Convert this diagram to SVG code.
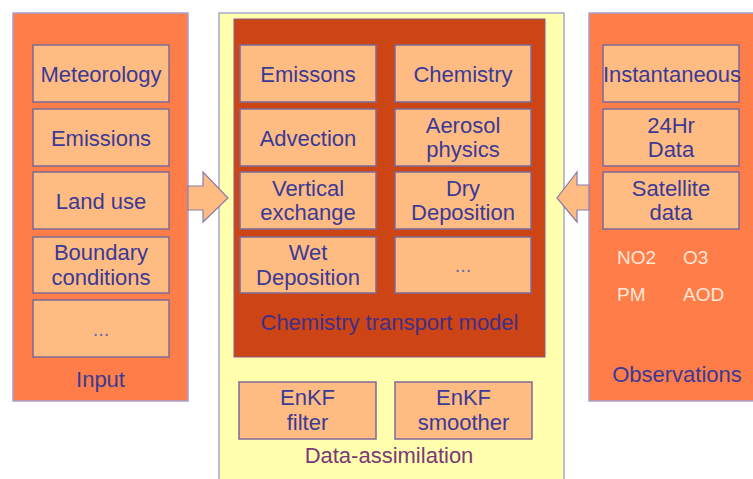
<svg xmlns="http://www.w3.org/2000/svg" width="753" height="479" viewBox="0 0 753 479">
<style>
.panel{fill:#FF7D48;stroke:#A8A0D0;stroke-width:1.5}
.box{fill:#FFBC82;stroke:#7C6A98;stroke-width:1.5}
.t{font-family:"Liberation Sans",Arial,sans-serif;font-size:22px;fill:#3A3A96;text-anchor:middle}
.w{font-family:"Liberation Sans",Arial,sans-serif;font-size:19px;fill:#FFE6D6}
.dots{font-family:"Liberation Sans",Arial,sans-serif;font-size:20px;fill:#6A6AA8;text-anchor:middle}
</style>
<rect width="753" height="479" fill="#FFFFFF"/>
<g id="input">
<rect class="panel" x="13" y="13" width="175" height="388"/>
<text class="t" x="100.5" y="387">Input</text>
</g>
<g id="meteorology"><rect class="box" x="33" y="45" width="136" height="57"/><text class="t" x="101" y="81.5">Meteorology</text></g>
<g id="emissions"><rect class="box" x="33" y="109" width="136" height="57"/><text class="t" x="101" y="145.5">Emissions</text></g>
<g id="landuse"><rect class="box" x="33" y="172" width="136" height="57"/><text class="t" x="101" y="208.5">Land use</text></g>
<g id="boundary"><rect class="box" x="33" y="237" width="136" height="56"/><text class="t" x="101" y="260">Boundary</text><text class="t" x="101" y="285">conditions</text></g>
<g id="input-more"><rect class="box" x="33" y="300" width="136" height="57"/><text class="dots" x="101" y="336">...</text></g>

<g id="data-assimilation">
<rect x="219" y="13" width="345" height="470" fill="#FFFFAE" stroke="#A8A8CC" stroke-width="1.5"/>
<text class="t" x="389" y="463" style="fill:#7A3A78">Data-assimilation</text>
</g>
<g id="ctm">
<rect x="234" y="19" width="311" height="338" fill="#CD4515" stroke="#8A5A80" stroke-width="1"/>
<text class="t" x="389.5" y="330" style="fill:#3F2F8A">Chemistry transport model</text>
</g>
<g id="emissons"><rect class="box" x="240" y="45" width="136" height="57"/><text class="t" x="308" y="81.5">Emissons</text></g>
<g id="chemistry"><rect class="box" x="395" y="45" width="136" height="57"/><text class="t" x="463" y="81.5">Chemistry</text></g>
<g id="advection"><rect class="box" x="240" y="109" width="136" height="57"/><text class="t" x="308" y="145.5">Advection</text></g>
<g id="aerosol"><rect class="box" x="395" y="109" width="136" height="57"/><text class="t" x="463" y="132.5">Aerosol</text><text class="t" x="463" y="157">physics</text></g>
<g id="vertical"><rect class="box" x="240" y="172" width="136" height="57"/><text class="t" x="308" y="195.5">Vertical</text><text class="t" x="308" y="220">exchange</text></g>
<g id="drydep"><rect class="box" x="395" y="172" width="136" height="57"/><text class="t" x="463" y="195.5">Dry</text><text class="t" x="463" y="220">Deposition</text></g>
<g id="wetdep"><rect class="box" x="240" y="237" width="136" height="56"/><text class="t" x="308" y="260">Wet</text><text class="t" x="308" y="285">Deposition</text></g>
<g id="ctm-more"><rect class="box" x="395" y="237" width="136" height="56"/><text class="dots" x="463" y="272">...</text></g>
<g id="enkf-filter"><rect class="box" x="239" y="382" width="137" height="57"/><text class="t" x="307.5" y="405">EnKF</text><text class="t" x="307.5" y="430">filter</text></g>
<g id="enkf-smoother"><rect class="box" x="395" y="382" width="137" height="57"/><text class="t" x="463.5" y="405">EnKF</text><text class="t" x="463.5" y="430">smoother</text></g>

<g id="observations">
<rect class="panel" x="589" y="13" width="175" height="388"/>
<text class="t" x="677" y="382">Observations</text>
<text class="w" x="617" y="264">NO2</text>
<text class="w" x="683" y="264">O3</text>
<text class="w" x="617" y="301">PM</text>
<text class="w" x="683" y="301">AOD</text>
</g>
<g id="instantaneous"><rect class="box" x="603" y="45" width="136" height="57"/><text class="t" x="672" y="81.5">Instantaneous</text></g>
<g id="data24"><rect class="box" x="603" y="109" width="136" height="57"/><text class="t" x="671" y="132.5">24Hr</text><text class="t" x="671" y="157">Data</text></g>
<g id="satellite"><rect class="box" x="603" y="172" width="136" height="57"/><text class="t" x="671" y="195.5">Satellite</text><text class="t" x="671" y="220">data</text></g>

<g id="connectors">
<polygon points="188,186 203,186 203,172 228,198 203,222 203,210 188,210" fill="#FFBC82" stroke="#8A7AB0" stroke-width="1.2"/>
<polygon points="589,185 577,185 577,172 557,198 577,222 577,210 589,210" fill="#FFBC82" stroke="#8A7AB0" stroke-width="1.2"/>
</g>
</svg>
